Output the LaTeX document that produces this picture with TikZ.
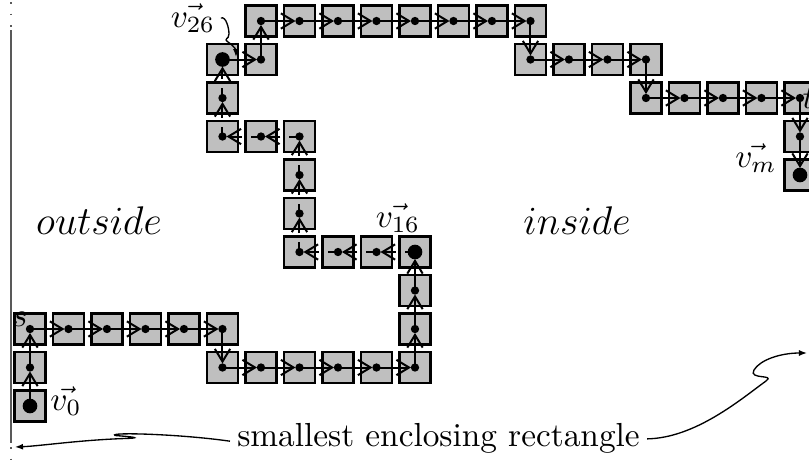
\documentclass[tikz,border=0pt]{standalone}
\usetikzlibrary{arrows.meta}

\tikzset{
  cell/.style={draw, line width=0.75pt, fill=black!25, minimum size=9.3pt, inner sep=0pt,
    path picture={\fill[black] (path picture bounding box.center) circle (1.25pt);}},
  bigcell/.style={cell, path picture={\fill[black] (path picture bounding box.center) circle (2.2pt);}},
  link/.style={line width=0.6pt, -{Straight Barb[length=3.8pt,width=4.6pt]}, shorten >=1.2pt},
  tobig/.style={link, shorten >=2.1pt},
  hidden/.style={dash pattern=on 3pt off 2.7pt on 20pt},
  pointer/.style={line width=0.4pt, -{Latex[length=2.4pt,width=1.8pt]}},
  bound/.style={draw=black!65, line width=0.45pt},
}

\begin{document}
\begin{tikzpicture}[x=0.3pt,y=0.3pt,yscale=-1,xscale=1]
\useasboundingbox (0,0) rectangle (809,467);

%Straight Lines: left side of the rectangle
\draw [bound] (11,30) -- (11,443) ;
\draw [bound, dash pattern=on 0.45pt off 3pt] (11,2) -- (11,27) ;
\draw [bound, dash pattern=on 0.45pt off 3pt] (11,447) -- (11,467) ;

%Shape: Square (path from s up to v16)
\node [bigcell] (v0) at (30,406) {};
\node [cell] (v1) at (30,367.5) {};
\node [cell] (v2) at (30,329) {};
\node [cell] (v3) at (68.5,329) {};
\node [cell] (v4) at (107,329) {};
\node [cell] (v5) at (145.5,329) {};
\node [cell] (v6) at (184,329) {};
\node [cell] (v7) at (222.5,329) {};
\node [cell] (v8) at (222.5,367.5) {};
\node [cell] (v9) at (261,367.5) {};
\node [cell] (v10) at (299.5,367.5) {};
\node [cell] (v11) at (338,367.5) {};
\node [cell] (v12) at (376.5,367.5) {};
\node [cell] (v13) at (415,367.5) {};
\node [cell] (v14) at (415,329) {};
\node [cell] (v15) at (415,290.5) {};
\node [bigcell] (v16) at (415,252) {};
%Shape: Square (loop from v16 to v26)
\node [cell] (v17) at (376.5,252) {};
\node [cell] (v18) at (338,252) {};
\node [cell] (v19) at (299.5,252) {};
\node [cell] (v20) at (299.5,213.5) {};
\node [cell] (v21) at (299.5,175) {};
\node [cell] (v22) at (299.5,136.5) {};
\node [cell] (v23) at (261,136.5) {};
\node [cell] (v24) at (222.5,136.5) {};
\node [cell] (v25) at (222.5,98) {};
\node [bigcell] (v26) at (222.5,59.5) {};
%Shape: Square (path from v26 to t and vm)
\node [cell] (v27) at (261,59.5) {};
\node [cell] (v28) at (261,21) {};
\node [cell] (v29) at (299.5,21) {};
\node [cell] (v30) at (338,21) {};
\node [cell] (v31) at (376.5,21) {};
\node [cell] (v32) at (415,21) {};
\node [cell] (v33) at (453.5,21) {};
\node [cell] (v34) at (492,21) {};
\node [cell] (v35) at (530.5,21) {};
\node [cell] (v36) at (530.5,59.5) {};
\node [cell] (v37) at (569,59.5) {};
\node [cell] (v38) at (607.5,59.5) {};
\node [cell] (v39) at (646,59.5) {};
\node [cell] (v40) at (646,98) {};
\node [cell] (v41) at (684.5,98) {};
\node [cell] (v42) at (723,98) {};
\node [cell] (v43) at (761.5,98) {};
\node [cell] (v44) at (800,98) {};
\node [cell] (v45) at (800,136.5) {};
\node [bigcell] (v46) at (800,175) {};

%Straight Lines
\draw [link] (v0.center) -- (v1.center) ;
\draw [link] (v1.center) -- (v2.center) ;
\draw [link] (v2.center) -- (v3.center) ;
\draw [link] (v3.center) -- (v4.center) ;
\draw [link] (v4.center) -- (v5.center) ;
\draw [link] (v5.center) -- (v6.center) ;
\draw [link] (v6.center) -- (v7.center) ;
\draw [link] (v7.center) -- (v8.center) ;
\draw [link] (v8.center) -- (v9.center) ;
\draw [link] (v9.center) -- (v10.center) ;
\draw [link] (v10.center) -- (v11.center) ;
\draw [link] (v11.center) -- (v12.center) ;
\draw [link] (v12.center) -- (v13.center) ;
\draw [link] (v13.center) -- (v14.center) ;
\draw [link] (v14.center) -- (v15.center) ;
\draw [tobig] (v15.center) -- (v16.center) ;
%Straight Lines (loop)
\draw [link, hidden] (v16.center) -- (v17.center) ;
\draw [link, hidden] (v17.center) -- (v18.center) ;
\draw [link, hidden] (v18.center) -- (v19.center) ;
\draw [link, hidden] (v19.center) -- (v20.center) ;
\draw [link, hidden] (v20.center) -- (v21.center) ;
\draw [link, hidden] (v21.center) -- (v22.center) ;
\draw [link, hidden] (v22.center) -- (v23.center) ;
\draw [link, hidden] (v23.center) -- (v24.center) ;
\draw [link, hidden] (v24.center) -- (v25.center) ;
\draw [tobig, hidden] (v25.center) -- (v26.center) ;
%Straight Lines
\draw [link] (v26.center) -- (v27.center) ;
\draw [link] (v27.center) -- (v28.center) ;
\draw [link] (v28.center) -- (v29.center) ;
\draw [link] (v29.center) -- (v30.center) ;
\draw [link] (v30.center) -- (v31.center) ;
\draw [link] (v31.center) -- (v32.center) ;
\draw [link] (v32.center) -- (v33.center) ;
\draw [link] (v33.center) -- (v34.center) ;
\draw [link] (v34.center) -- (v35.center) ;
\draw [link] (v35.center) -- (v36.center) ;
\draw [link] (v36.center) -- (v37.center) ;
\draw [link] (v37.center) -- (v38.center) ;
\draw [link] (v38.center) -- (v39.center) ;
\draw [link] (v39.center) -- (v40.center) ;
\draw [link] (v40.center) -- (v41.center) ;
\draw [link] (v41.center) -- (v42.center) ;
\draw [link] (v42.center) -- (v43.center) ;
\draw [link] (v43.center) -- (v44.center) ;
\draw [link] (v44.center) -- (v45.center) ;
\draw [tobig] (v45.center) -- (v46.center) ;

% Text Node
\node [anchor=south east, inner sep=0.5pt] (s) at (v2.center) {$s$};
% Text Node
\node [anchor=west, inner sep=0.6pt] (t) at (v44.center) {$t$};
% Text Node
\node (lab0) at (66,401) {$\vec{v_{0}}$};
% Text Node
\node (lab16) at (398,218) {$\vec{v_{16}}$};
% Text Node
\node [inner sep=1.5pt] (lab26) at (193,18) {$\vec{v_{26}}$};
% Text Node
\node (labm) at (756,158) {$\vec{v_{m}}$};
% Text Node
\node [font=\large] (out) at (99,221) {$outside$};
% Text Node
\node [font=\large] (ins) at (577,221) {$inside$};
% Text Node
\node [anchor=base west, inner sep=2pt] (rect) at (230,446) {smallest enclosing rectangle};

\coordinate (lft) at (15,447);
\coordinate (rgt) at (807,353);
\coordinate (tip26) at (236,57);

%Curve Lines
\draw [pointer] ([yshift=1pt]rect.west) .. controls (180,434) and (108,432) .. (115,435.5) .. controls (135,437) and (142,438) .. (125,438.5) .. controls (80,440) and (40,446) .. (lft) ;
%Curve Lines
\draw [pointer] ([yshift=0.3pt]rect.east) .. controls (695,438) and (740,400) .. (766,381) .. controls (776,374) and (748,380) .. (754,370) .. controls (760,360) and (780,353) .. (rgt) ;
%Curve Lines
\draw [pointer] (lab26.east) .. controls (226,16) and (229,28) .. (229,34) .. controls (229,40) and (223,38) .. (228,42) .. controls (234,46) and (236,50) .. (tip26) ;

\end{tikzpicture}
\end{document}
